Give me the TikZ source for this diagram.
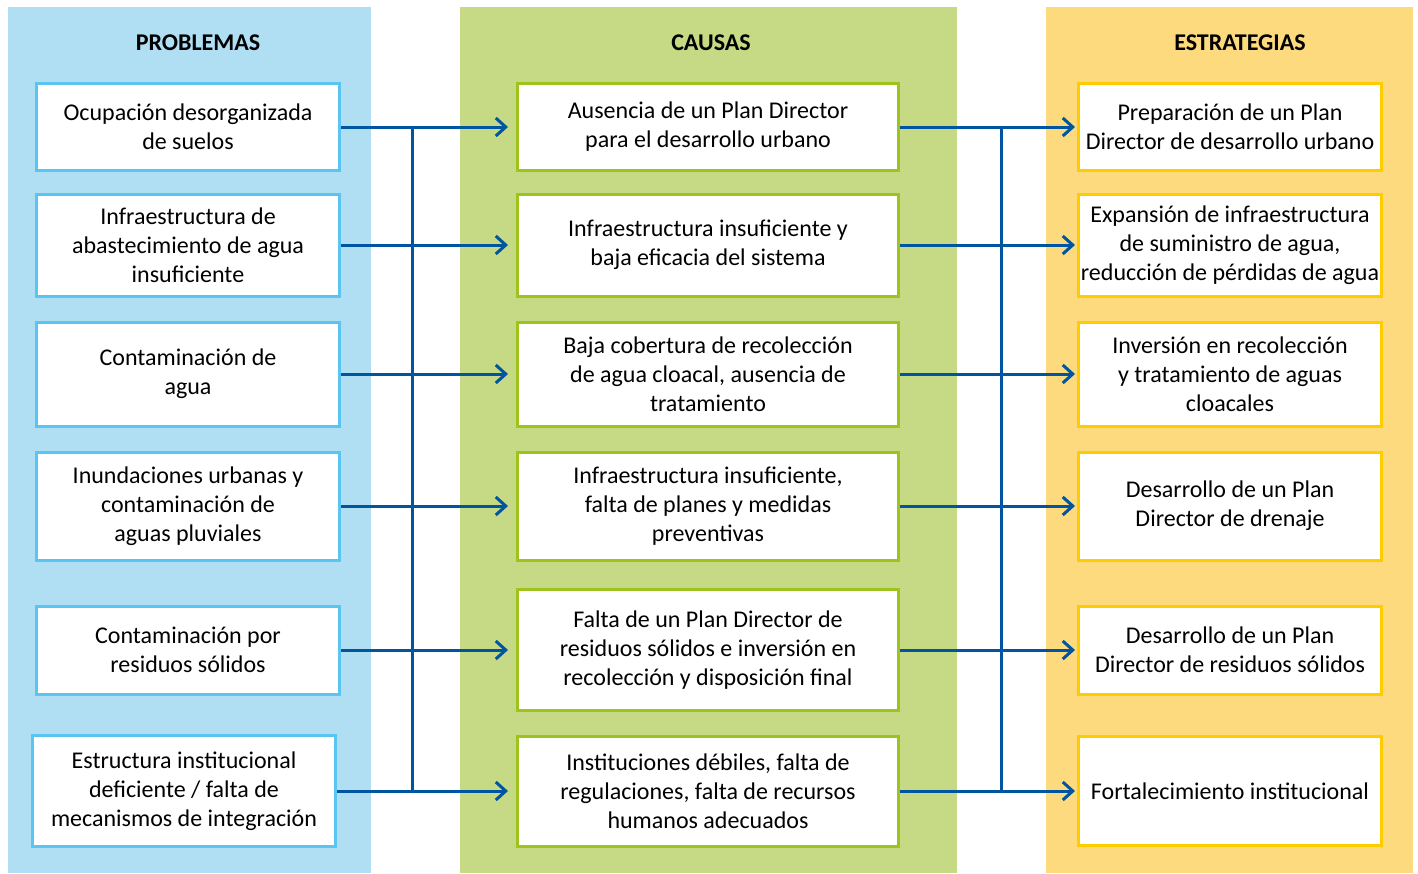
\documentclass[tikz,border=0pt]{standalone}
\usepackage{fontspec}
\setmainfont{Carlito}
\usetikzlibrary{arrows.meta}

\definecolor{probfill}{HTML}{B0DFF4}
\definecolor{probline}{HTML}{5BC5F2}
\definecolor{causfill}{HTML}{C6D985}
\definecolor{causline}{HTML}{9DC31C}
\definecolor{estrfill}{HTML}{FDDA7E}
\definecolor{estrline}{HTML}{FFCC00}
\definecolor{azul}{HTML}{0055A0}

\tikzset{
  caja/.style={draw, line width=1.5pt, fill=white, align=center, inner sep=0pt,
    font=\fontsize{12}{14.5}\selectfont},
  prob/.style={caja, draw=probline, minimum width=151.5pt},
  caus/.style={caja, draw=causline, minimum width=190.5pt},
  estr/.style={caja, draw=estrline, minimum width=151.5pt},
  titulo/.style={font=\fontsize{12}{14}\selectfont\bfseries},
  conector/.style={draw=azul, line width=1.5pt},
  flecha/.style={conector, -{Straight Barb[length=5pt,width=9pt,line width=1.5pt]}}
}

\begin{document}
\begin{tikzpicture}[x=0.5pt,y=-0.5pt]
    \useasboundingbox (0,0) rectangle (1418,873);

    % Background columns
    \fill[probfill] (8,7) rectangle (371,873);
    \fill[causfill] (460,7) rectangle (957,873);
    \fill[estrfill] (1046,7) rectangle (1413,873);

    \node[titulo] (tprob) at (198,43) {PROBLEMAS};
    \node[titulo] (tcaus) at (711,43) {CAUSAS};
    \node[titulo] (testr) at (1240,43) {ESTRATEGIAS};

    % Problems
    \node[prob, minimum height=43.5pt] (p1) at (188,127) {Ocupación desorganizada\\de suelos};
    \node[prob, minimum height=51pt] (p2) at (188,245) {Infraestructura de\\abastecimiento de agua\\insuficiente};
    \node[prob, minimum height=52pt] (p3) at (188,374) {Contaminación de\\agua};
    \node[prob, minimum height=54pt] (p4) at (188,506) {Inundaciones urbanas y\\contaminación de\\aguas pluviales};
    \node[prob, minimum height=44pt] (p5) at (188,650) {Contaminación por\\residuos sólidos};
    \node[prob, minimum height=55.5pt] (p6) at (184,791) {Estructura institucional\\deficiente / falta de\\mecanismos de integración};

    % Causes
    \node[caus, minimum height=43.5pt] (m1) at (708,127) {Ausencia de un Plan Director\\para el desarrollo urbano};
    \node[caus, minimum height=51pt] (m2) at (708,245) {Infraestructura insuficiente y\\baja eficacia del sistema};
    \node[caus, minimum height=52pt] (m3) at (708,374) {Baja cobertura de recolección\\de agua cloacal, ausencia de\\tratamiento};
    \node[caus, minimum height=54pt] (m4) at (708,506) {Infraestructura insuficiente,\\falta de planes y medidas\\preventivas};
    \node[caus, minimum height=60.5pt] (m5) at (708,650) {Falta de un Plan Director de\\residuos sólidos e inversión en\\recolección y disposición final};
    \node[caus, minimum height=55pt] (m6) at (708,791) {Instituciones débiles, falta de\\regulaciones, falta de recursos\\humanos adecuados};

    % Strategies
    \node[estr, minimum height=43.5pt] (e1) at (1230,127) {Preparación de un Plan\\Director de desarrollo urbano};
    \node[estr, minimum height=51pt] (e2) at (1230,245) {Expansión de infraestructura\\de suministro de agua,\\reducción de pérdidas de agua};
    \node[estr, minimum height=52pt] (e3) at (1230,374) {Inversión en recolección\\y tratamiento de aguas\\cloacales};
    \node[estr, minimum height=54pt] (e4) at (1230,506) {Desarrollo de un Plan\\Director de drenaje};
    \node[estr, minimum height=44pt] (e5) at (1230,650) {Desarrollo de un Plan\\Director de residuos sólidos};
    \node[estr, minimum height=54.5pt] (e6) at (1230,791) {Fortalecimiento institucional};

    % Vertical bars
    \coordinate (izqa) at (412,127);
    \coordinate (izqb) at (412,791);
    \coordinate (dera) at (1001,127);
    \coordinate (derb) at (1001,791);
    \draw[conector] (izqa) -- (izqb);
    \draw[conector] (dera) -- (derb);

    % Arrows problems -> causes
    \draw[flecha, shorten >=4pt] (p1.east) -- (m1.west);
    \draw[flecha, shorten >=4pt] (p2.east) -- (m2.west);
    \draw[flecha, shorten >=4pt] (p3.east) -- (m3.west);
    \draw[flecha, shorten >=4pt] (p4.east) -- (m4.west);
    \draw[flecha, shorten >=4pt] (p5.east) -- (m5.west);
    \draw[flecha, shorten >=4pt] (p6.east) -- (m6.west);

    % Arrows causes -> strategies
    \draw[flecha, shorten >=1pt] (m1.east) -- (e1.west);
    \draw[flecha, shorten >=1pt] (m2.east) -- (e2.west);
    \draw[flecha, shorten >=1pt] (m3.east) -- (e3.west);
    \draw[flecha, shorten >=1pt] (m4.east) -- (e4.west);
    \draw[flecha, shorten >=1pt] (m5.east) -- (e5.west);
    \draw[flecha, shorten >=1pt] (m6.east) -- (e6.west);
\end{tikzpicture}
\end{document}
